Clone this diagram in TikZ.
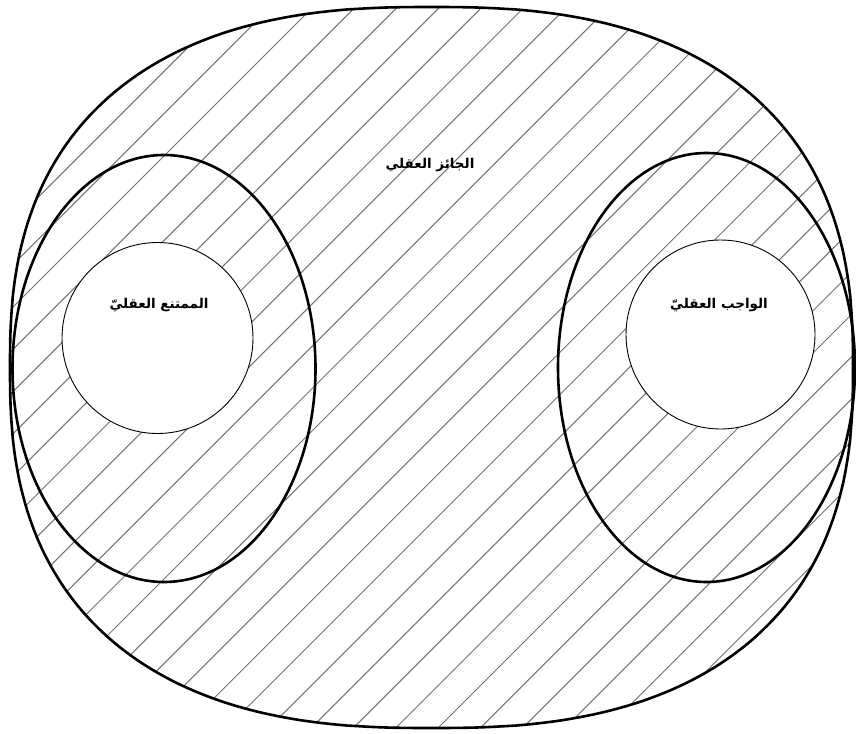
\documentclass[tikz,border=0pt]{standalone}
\usepackage{fontspec}
\usetikzlibrary{shapes.geometric}
\TeXXeTstate=1
\newfontfamily\arabicfont[Script=Arabic]{DejaVu Sans}
\tikzset{
  thickline/.style={line width=2.6pt, draw=black},
  hatchline/.style={line width=1pt, black!55},
  innercircle/.style={circle, draw, line width=0.9pt, fill=white, inner sep=0pt, minimum size=#1},
  bigellipse/.style={ellipse, draw, thickline, inner sep=0pt},
  label/.style={font=\arabicfont\bfseries\fontsize{13.5}{15}\selectfont, inner sep=0pt},
}
\def\outerpath{plot[domain=0.5:360.5, samples=361] ({431.5+421.5*sign(cos(\x))*pow(abs(cos(\x)),0.8)}, {367.5+360.5*sign(sin(\x))*pow(abs(sin(\x)),0.8)}) -- cycle}
\begin{document}
\begin{tikzpicture}[x=1pt, y=-1pt]
\useasboundingbox[fill=white] (0,0) rectangle (856,733);
\begin{scope}
  \clip \outerpath;
  \foreach \k in {-7,...,29} {
    \pgfmathsetmacro{\c}{320+42.3*\k}
    \draw[hatchline] (\c,0) -- ({\c-733},733);
  }
\end{scope}
\node[innercircle=191pt] (imp) at (157.5,338) {};
\node[innercircle=189pt] (nec) at (720.5,334.5) {};
\node[bigellipse, minimum width=303pt, minimum height=427pt] (lell) at (164,368.5) {};
\node[bigellipse, minimum width=297pt, minimum height=429pt] (rell) at (706.5,367.5) {};
\draw[thickline] \outerpath;
\node[label] (poss) at (430,165) {\beginR الجائز العقلي\endR};
\node[label] (impt) at (159,305) {\beginR الممتنع العقليّ\endR};
\node[label] (nect) at (719,305) {\beginR الواجب العقليّ\endR};
\end{tikzpicture}
\end{document}
